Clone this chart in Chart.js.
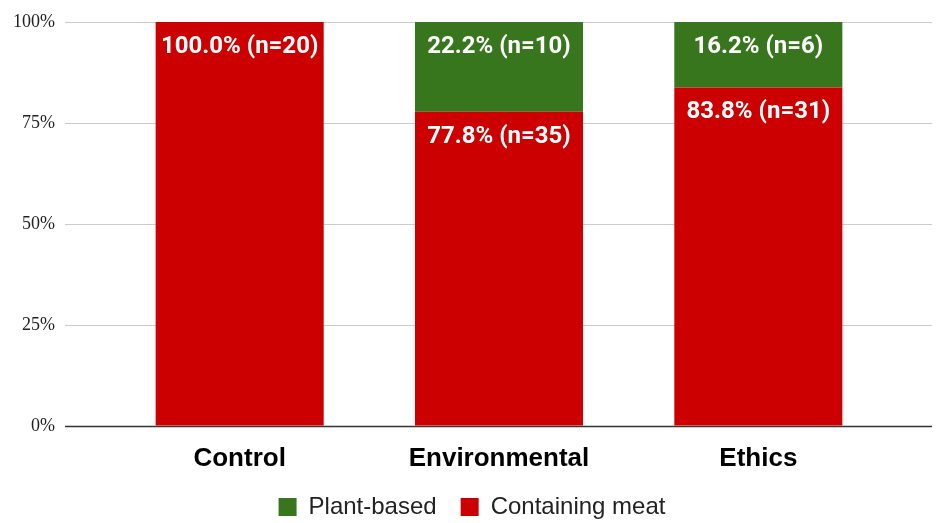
<!DOCTYPE html>
<html>
<head>
<meta charset="utf-8">
<script src="https://cdn.jsdelivr.net/npm/chart.js@4/dist/chart.umd.min.js"></script>
<style>
html,body{margin:0;padding:0;background:#fff;}
#wrap{width:945px;height:523px;position:relative;}
</style>
</head>
<body>
<div id="wrap"><canvas id="cDiet"></canvas></div>
<script>
// data
var categories=["Control","Environmental","Ethics"];
var meatPct=[100.0,77.8,83.8];
var meatN=[20,35,31];
var plantPct=[0,22.2,16.2];
var plantN=[0,10,6];
var yTicks=[0,25,50,75,100];

var C={green:"#38761d",red:"#cc0000",grid:"#cccccc",base:"#333333",text:"#222222"};

// gridlines run wider than the bar area, so draw them off the y scale
var gridPlugin={
  id:"wideGrid",
  beforeDatasetsDraw:function(chart){
    var ctx=chart.ctx,y=chart.scales.y;
    ctx.save();
    yTicks.forEach(function(v){
      var py=Math.round(y.getPixelForValue(v))+0.5;
      ctx.beginPath();
      ctx.lineWidth=v===0?1.5:1;
      ctx.strokeStyle=v===0?C.base:C.grid;
      ctx.moveTo(65,py);ctx.lineTo(932,py);
      ctx.stroke();
    });
    ctx.restore();
  }
};

var labelPlugin={
  id:"barLabels",
  afterDatasetsDraw:function(chart){
    var ctx=chart.ctx;
    var sets=[[meatPct,meatN],[plantPct,plantN]];
    ctx.save();
    ctx.font="bold 24px Roboto";
    ctx.fillStyle="#ffffff";
    ctx.textAlign="center";
    ctx.textBaseline="middle";
    sets.forEach(function(s,d){
      chart.getDatasetMeta(d).data.forEach(function(bar,i){
        if(!s[0][i])return;
        ctx.fillText(s[0][i].toFixed(1)+"% (n="+s[1][i]+")",bar.x,bar.y+25);
      });
    });
    ctx.restore();
  }
};

// legend sits a bit right of the full-width centre in the original
var legendShift={
  id:"legendShift",
  afterLayout:function(chart){
    var lg=chart.legend;
    lg.left+=28;lg.right+=28;
    lg.top+=2;lg.bottom+=2;
  }
};

new Chart(document.getElementById("cDiet"),{
  type:"bar",
  data:{
    labels:categories,
    datasets:[
      {label:"Containing meat",data:meatPct,backgroundColor:C.red,categoryPercentage:1,barPercentage:0.648},
      {label:"Plant-based",data:plantPct,backgroundColor:C.green,categoryPercentage:1,barPercentage:0.648}
    ]
  },
  options:{
    responsive:true,
    maintainAspectRatio:false,
    animation:false,
    layout:{padding:{top:22,right:57,bottom:-4,left:0}},
    plugins:{
      tooltip:{enabled:false},
      legend:{
        position:"bottom",
        reverse:true,
        labels:{color:C.text,font:{family:"Liberation Sans",size:24},boxWidth:18,boxHeight:18,padding:24}
      }
    },
    scales:{
      x:{
        stacked:true,
        grid:{display:false},
        border:{display:false},
        ticks:{color:"#000",font:{family:"Liberation Sans",size:26,weight:"bold"},padding:9,maxRotation:0,minRotation:0},
        afterFit:function(s){s.height=43;}
      },
      y:{
        stacked:true,
        min:0,max:100,
        grid:{display:true,color:"rgba(0,0,0,0)",drawTicks:true,tickLength:55},
        border:{display:false},
        ticks:{stepSize:25,padding:0,color:C.text,font:{family:"Liberation Serif",size:18},
          callback:function(v){return v+"%";}},
        afterFit:function(s){s.width=110;}
      }
    }
  },
  plugins:[gridPlugin,labelPlugin,legendShift]
});
</script>
</body>
</html>
